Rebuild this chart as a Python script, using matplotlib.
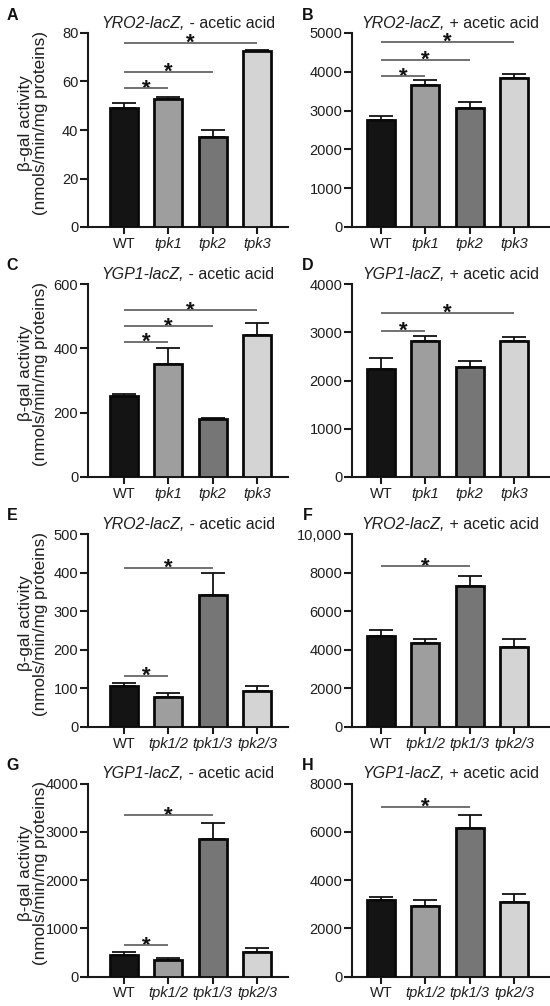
import matplotlib
matplotlib.use("Agg")
import matplotlib.pyplot as plt

plt.rcParams['font.family'] = ['Liberation Sans', 'DejaVu Sans']

# ---------------- data ----------------
cats_single = ["WT", "tpk1", "tpk2", "tpk3"]
cats_double = ["WT", "tpk1/2", "tpk1/3", "tpk2/3"]

A_mean = [49.0, 52.8, 37.3, 72.4]
A_err = [2.3, 0.9, 2.6, 0.6]
B_mean = [2750, 3660, 3075, 3850]
B_err = [110, 130, 145, 100]
C_mean = [253, 352, 180, 441]
C_err = [4, 48, 3, 38]
D_mean = [2240, 2820, 2290, 2825]
D_err = [220, 105, 105, 80]
E_mean = [106, 79, 343, 94]
E_err = [7, 10, 55, 12]
F_mean = [4690, 4370, 7290, 4170]
F_err = [350, 170, 520, 380]
G_mean = [440, 347, 2860, 510]
G_err = [70, 30, 320, 90]
H_mean = [3160, 2910, 6140, 3080]
H_err = [125, 280, 540, 320]

# significance brackets: (from, to, height)
A_sig = [(0, 1, 57.2), (0, 2, 64.0), (0, 3, 75.9)]
B_sig = [(0, 1, 3880), (0, 2, 4310), (0, 3, 4770)]
C_sig = [(0, 1, 420), (0, 2, 469), (0, 3, 519)]
D_sig = [(0, 1, 3030), (0, 3, 3400)]
E_sig = [(0, 1, 133), (0, 2, 412)]
F_sig = [(0, 2, 8320)]
G_sig = [(0, 1, 652), (0, 2, 3342)]
H_sig = [(0, 2, 7030)]

A_ticks = [0, 20, 40, 60, 80]
B_ticks = [0, 1000, 2000, 3000, 4000, 5000]
C_ticks = [0, 200, 400, 600]
D_ticks = [0, 1000, 2000, 3000, 4000]
E_ticks = [0, 100, 200, 300, 400, 500]
F_ticks = [0, 2000, 4000, 6000, 8000, 10000]
F_ticklabels = ["0", "2000", "4000", "6000", "8000", "10,000"]
G_ticks = [0, 1000, 2000, 3000, 4000]
H_ticks = [0, 2000, 4000, 6000, 8000]

# titles: (italic part, regular part)
titles = {
    "A": ("YRO2-lacZ,", " - acetic acid"),
    "B": ("YRO2-lacZ,", " + acetic acid"),
    "C": ("YGP1-lacZ,", " - acetic acid"),
    "D": ("YGP1-lacZ,", " + acetic acid"),
    "E": ("YRO2-lacZ,", " - acetic acid"),
    "F": ("YRO2-lacZ,", " + acetic acid"),
    "G": ("YGP1-lacZ,", " - acetic acid"),
    "H": ("YGP1-lacZ,", " + acetic acid"),
}
ylabel = "\u03b2-gal activity\n(nmols/min/mg proteins)"

bar_colors = ["#141414", "#9e9e9e", "#767676", "#d4d4d4"]
TXT = "#1e1e1e"

W, H = 550, 1006
fig = plt.figure(figsize=(W / 100, H / 100), dpi=100)

rows = [(33, 227), (284, 477), (534, 727), (783.5, 976.5)]
left_x = (88, 288)
right_x = (352, 549)

panels = [
    ("A", 0, 0, cats_single, A_mean, A_err, A_sig, A_ticks, None, 80),
    ("B", 0, 1, cats_single, B_mean, B_err, B_sig, B_ticks, None, 5000),
    ("C", 1, 0, cats_single, C_mean, C_err, C_sig, C_ticks, None, 600),
    ("D", 1, 1, cats_single, D_mean, D_err, D_sig, D_ticks, None, 4000),
    ("E", 2, 0, cats_double, E_mean, E_err, E_sig, E_ticks, None, 500),
    ("F", 2, 1, cats_double, F_mean, F_err, F_sig, F_ticks, F_ticklabels, 10000),
    ("G", 3, 0, cats_double, G_mean, G_err, G_sig, G_ticks, None, 4000),
    ("H", 3, 1, cats_double, H_mean, H_err, H_sig, H_ticks, None, 8000),
]

title_parts = []

for letter, r, c, cats, means, errs, sigs, ticks, tlabels, ymax in panels:
    top, bot = rows[r]
    x0, x1 = left_x if c == 0 else right_x
    ax = fig.add_axes([x0 / W, 1 - bot / H, (x1 - x0) / W, (bot - top) / H])
    xs = list(range(len(cats)))
    ax.bar(xs, means, width=0.63, color=bar_colors, edgecolor="#0a0a0a",
           linewidth=2.0, zorder=3)
    ax.errorbar(xs, means, yerr=[[0] * len(errs), errs], fmt="none",
                ecolor="#111111", elinewidth=1.3, capsize=8.5, capthick=1.3,
                zorder=2)
    for i, j, yv in sigs:
        ax.plot([i, j], [yv, yv], color="#666666", lw=1.3, zorder=4,
                solid_capstyle="butt", clip_on=False)
        ax.annotate("*", xy=((i + j) / 2, yv), xytext=(0, -4.5),
                    textcoords="offset points", ha="center", va="baseline",
                    fontsize=16, fontweight="bold", color="#111111",
                    annotation_clip=False)
    if c == 0:
        ax.set_xlim(-0.81, 3.70)
    else:
        ax.set_xlim(-0.65, 3.79)
    ax.set_ylim(0, ymax)
    ax.set_yticks(ticks)
    if tlabels is not None:
        ax.set_yticklabels(tlabels)
    ax.set_xticks(xs)
    ax.set_xticklabels(cats)
    for k, lab in enumerate(ax.get_xticklabels()):
        if k > 0:
            lab.set_fontstyle("italic")
    for s in ("top", "right"):
        ax.spines[s].set_visible(False)
    for s in ("left", "bottom"):
        ax.spines[s].set_linewidth(1.5)
        ax.spines[s].set_color("#1a1a1a")
    ax.tick_params(axis="y", length=5.5, width=1.5, pad=1.5, labelsize=10.5,
                   colors="#1a1a1a", labelcolor=TXT)
    ax.tick_params(axis="x", length=5, width=1.5, pad=2, labelsize=10.5,
                   colors="#1a1a1a", labelcolor=TXT)

    # title in two styles
    it_part, rm_part = titles[letter]
    ty = 1 - (top - 5) / H
    t1 = fig.text(0, ty, it_part, fontsize=11.5, fontstyle="italic",
                  ha="left", va="baseline", color=TXT)
    t2 = fig.text(0, ty, rm_part, fontsize=11.5, ha="left", va="baseline",
                  color=TXT)
    title_parts.append((t1, t2, (x0 + x1) / 2))

    if c == 0:
        ax.text(-0.275, 0.536, ylabel, transform=ax.transAxes, rotation=90,
                ha="center", va="center", multialignment="center",
                fontsize=12.3, linespacing=1.05, color=TXT)
    # panel letter
    lx = 12.5 if c == 0 else 307.5
    ly = top - 18
    fig.text(lx / W, 1 - ly / H, letter, ha="center", va="center",
             fontsize=11.5, fontweight="bold", color="#111111")

renderer = fig.canvas.get_renderer()
for t1, t2, cx in title_parts:
    w1 = t1.get_window_extent(renderer).width
    w2 = t2.get_window_extent(renderer).width
    start = cx - (w1 + w2) / 2
    t1.set_x(start / W)
    t2.set_x((start + w1) / W)

fig.savefig("out.png", dpi=100)
